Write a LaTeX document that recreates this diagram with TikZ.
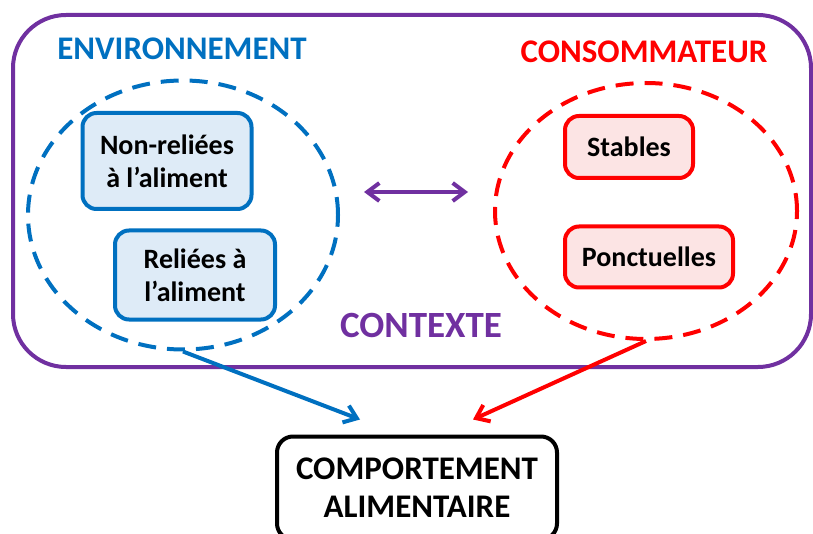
\documentclass[tikz,border=0pt]{standalone}
\usepackage{fontspec}
\setmainfont{Carlito}
\usetikzlibrary{arrows.meta,shapes.geometric}
\definecolor{ctxpurple}{HTML}{7030A0}
\definecolor{envblue}{HTML}{0070C0}
\definecolor{envfill}{HTML}{DEEBF7}
\definecolor{consred}{HTML}{FF0000}
\definecolor{consfill}{HTML}{FCE4E4}

\begin{document}
\begin{tikzpicture}[x=1pt,y=-1pt,>={Straight Barb[length=12pt,width=18pt]},line width=4pt,
  frame/.style={rectangle,draw=ctxpurple,rounded corners=53pt},
  group/.style={ellipse,dash pattern=on 18pt off 11pt},
  title/.style={font=\fontsize{33}{40}\selectfont\bfseries,inner sep=0pt},
  factor box/.style={rectangle,rounded corners=14pt,draw,align=center,inner sep=0pt,
    font=\fontsize{28}{33}\selectfont\bfseries},
  env box/.style={factor box,draw=envblue,fill=envfill},
  cons box/.style={factor box,draw=consred,fill=consfill},
  outcome/.style={rectangle,rounded corners=16pt,draw=black,align=center,inner sep=0pt,
    font=\fontsize{33}{38}\selectfont\bfseries}]
  \useasboundingbox (0,0) rectangle (813,534);

  \node[frame,minimum width=798pt,minimum height=352pt] (ctx) at (412,191) {};
  \node[group,draw=envblue,minimum width=310pt,minimum height=269pt] (env) at (183,215) {};
  \node[group,draw=consred,minimum width=302pt,minimum height=256pt] (cons) at (646,211) {};

  \node[title,text=envblue] (envtitle) at (182,49) {ENVIRONNEMENT};
  \node[title,text=consred] (constitle) at (644,52) {CONSOMMATEUR};
  \node[title,text=ctxpurple,font=\fontsize{37}{44}\selectfont\bfseries] (ctxtitle) at (421,325) {CONTEXTE};

  \node[env box,minimum width=169pt,minimum height=96pt] (nonrel) at (167,161) {Non-reliées\\à l’aliment};
  \node[env box,minimum width=160pt,minimum height=89pt] (rel) at (195,275) {Reliées à\\l’aliment};
  \node[cons box,minimum width=128pt,minimum height=62pt] (stables) at (629,147) {Stables};
  \node[cons box,minimum width=168pt,minimum height=61pt] (ponct) at (649,257) {Ponctuelles};

  \node[outcome,minimum width=280pt,minimum height=103pt] (comp) at (417,488) {COMPORTEMENT\\ALIMENTAIRE};

  \path[<->,ctxpurple]
    ([shift={(24,-23)}]env.east) edge ([shift={(-25,-19)}]cons.west);
  \path[->,envblue]
    (env.south) edge ([shift={(-57,-15)}]comp.north);
  \path[->,consred]
    (cons.south) edge ([shift={(56,-15)}]comp.north);
\end{tikzpicture}
\end{document}
